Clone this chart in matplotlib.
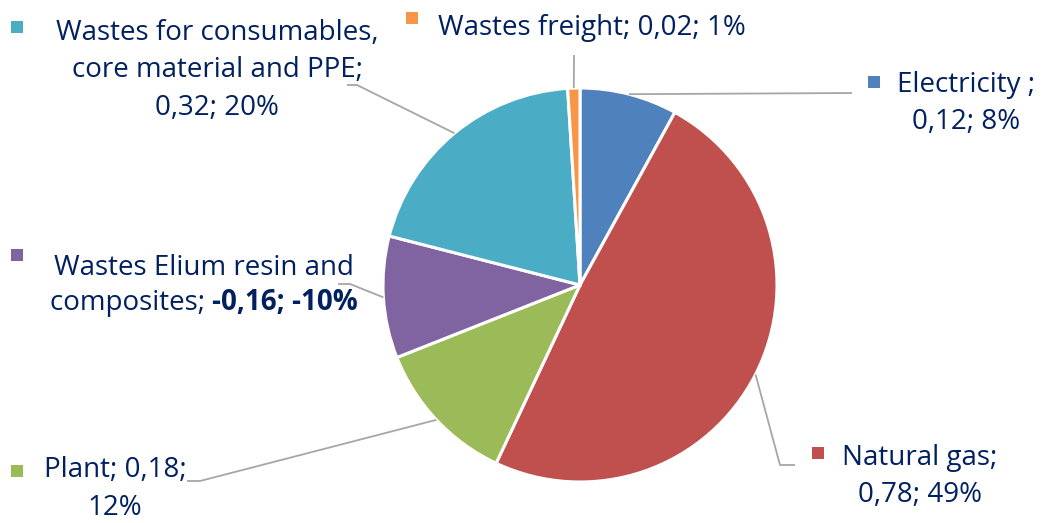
import numpy as np
import matplotlib.pyplot as plt
from matplotlib.patches import Rectangle

# emission shares per source (kg CO2 eq. and share of total)
names = ["Electricity", "Natural gas", "Plant", "Wastes Elium resin and composites",
         "Wastes for consumables, core material and PPE", "Wastes freight"]
values = [0.12, 0.78, 0.18, -0.16, 0.32, 0.02]
shares = [8, 49, 12, -10, 20, 1]
colors = ["#4F81BD", "#C0504D", "#9BBB59", "#8064A2", "#4BACC6", "#F79646"]

W, H = 1046, 523
TXT = "#002060"
LINE = "#A6A6A6"
plt.rcParams['font.family'] = ['Open Sans', 'DejaVu Sans']
FS = 20

fig = plt.figure(figsize=(W / 100, H / 100), dpi=100)
ax = fig.add_axes([0, 0, 1, 1])

def Y(y):
    # top-down pixel row -> data y
    return H - y

cx, cy, r = 580, 285, 197
wedges, _ = ax.pie(np.abs(shares), colors=colors, startangle=90, counterclock=False,
                   center=(cx, Y(cy)), radius=r,
                   wedgeprops=dict(edgecolor="white", linewidth=2.2))
ax.set_xlim(0, W)
ax.set_ylim(0, H)
ax.set_aspect('auto')
ax.axis('off')

def fmt(v):
    return f"{v:.2f}".replace(".", ",")

# label layout: marker centre, text centre x, line rows, leader elbow points
layout = [
    dict(mk=(874, 82), tx=966, rows=[85, 122], lines=["Electricity ;", "{v}; {p}%"],
         lead=[(852, 93)]),
    dict(mk=(818, 453), tx=920, rows=[458, 495], lines=["Natural gas;", "{v}; {p}%"],
         lead=[(795, 465), (780, 465)]),
    dict(mk=(17, 471), tx=115, rows=[470, 508], lines=["Plant; {v};", "{p}%"],
         lead=[(187, 481), (200, 481)]),
    dict(mk=(17, 255), tx=204, rows=[268, 303], lines=["Wastes Elium resin and", None],
         lead=[(338, 284), (350, 284)]),
    dict(mk=(17, 27), tx=217, rows=[33, 70, 108],
         lines=["Wastes for consumables,", "core material and PPE;", "{v}; {p}%"],
         lead=[(347, 85), (357, 85)]),
    dict(mk=(412, 18), tx=592, rows=[28], lines=["Wastes freight; {v}; {p}%"],
         lead=[(574, 55)]),
]

fig.canvas.draw()
renderer = fig.canvas.get_renderer()

for w, val, pct, col, lay in zip(wedges, values, shares, colors, layout):
    # leader line from the middle of the wedge arc
    mid = np.deg2rad((w.theta1 + w.theta2) / 2)
    ax0, ay0 = cx + r * np.cos(mid), Y(cy) + r * np.sin(mid)
    pts = [(ax0, ay0)] + [(x, Y(y)) for x, y in reversed(lay["lead"])]
    ax.plot([p[0] for p in pts], [p[1] for p in pts], color=LINE, lw=1.3,
            solid_capstyle='butt', zorder=1)

    mx, my = lay["mk"]
    ax.add_patch(Rectangle((mx - 6, Y(my) - 6), 12, 12, color=col, lw=0))

    for row, line in zip(lay["rows"], lay["lines"]):
        if line is None:
            # normal name part followed by the bold negative value
            a = ax.text(0, 0, "composites; ", fontsize=FS, color=TXT)
            b = ax.text(0, 0, f"{fmt(val)}; {pct}%", fontsize=FS, color=TXT,
                        fontweight='bold')
            wa = a.get_window_extent(renderer).width
            wb = b.get_window_extent(renderer).width
            x0 = lay["tx"] - (wa + wb) / 2
            a.set_position((x0, Y(row)))
            a.set_va('center')
            b.set_position((x0 + wa, Y(row)))
            b.set_va('center')
            continue
        ax.text(lay["tx"], Y(row), line.format(v=fmt(val), p=pct), fontsize=FS,
                color=TXT, ha='center', va='center')

fig.savefig("out.png", dpi=100)
